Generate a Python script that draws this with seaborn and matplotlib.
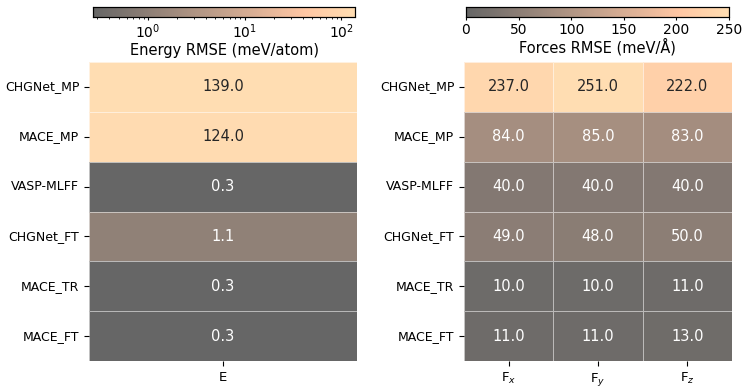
"""
Energy / force RMSE heatmaps for the MLFF comparison.
"""

import numpy as np
import pandas as pd
import matplotlib
matplotlib.use("Agg")
import matplotlib.pyplot as plt
from matplotlib.colors import LogNorm, Normalize
import seaborn as sns


# ---------------------------------------------------------------------------
# Data
# ---------------------------------------------------------------------------

MODELS = ["CHGNet_MP", "MACE_MP", "VASP-MLFF", "CHGNet_FT", "MACE_TR", "MACE_FT"]
ENERGY_COLS = ["E"]
FORCE_COLS = ["F$_x$", "F$_y$", "F$_z$"]

energy_rmse = [139.0, 124.0, 0.27, 1.1, 0.27, 0.27]
force_x = [237.0, 84.0, 40.0, 49.0, 10.0, 11.0]
force_y = [251.0, 85.0, 40.0, 48.0, 10.0, 11.0]
force_z = [222.0, 83.0, 40.0, 50.0, 11.0, 13.0]

CMAP = "copper"
ALPHA = 0.6


def main() -> None:
    df_e = pd.DataFrame({ENERGY_COLS[0]: energy_rmse}, index=MODELS)
    df_f = pd.DataFrame(dict(zip(FORCE_COLS, [force_x, force_y, force_z])), index=MODELS)

    fig = plt.figure(figsize=(7.47, 3.9), dpi=100)
    W, H = 747, 390

    def box(x0, y0, x1, y1):
        return [x0 / W, 1 - y1 / H, (x1 - x0) / W, (y1 - y0) / H]

    ax_e = fig.add_axes(box(89, 62, 357, 361))
    ax_f = fig.add_axes(box(464, 62, 732, 361))
    cax_e = fig.add_axes(box(93, 7, 355, 17))
    cax_f = fig.add_axes(box(466, 7, 729, 17))

    common = dict(cmap=CMAP, alpha=ALPHA, annot=True, fmt=".1f",
                  linewidths=0.6, linecolor="white",
                  annot_kws={"fontsize": 10.5},
                  cbar_kws={"orientation": "horizontal"})

    # Energy panel (log scale)
    sns.heatmap(df_e, ax=ax_e, cbar_ax=cax_e,
                norm=LogNorm(vmin=min(energy_rmse), vmax=max(energy_rmse)),
                **common)
    # Forces panel (linear)
    sns.heatmap(df_f, ax=ax_f, cbar_ax=cax_f,
                norm=Normalize(vmin=0, vmax=250), **common)

    for ax in (ax_e, ax_f):
        ax.set_yticklabels(MODELS, rotation=0, fontsize=9)
        ax.tick_params(axis="x", labelsize=9.5)
        ax.set_xlabel("")
        ax.set_ylabel("")

    cax_e.set_xlabel("Energy RMSE (meV/atom)", fontsize=10.5, labelpad=1)
    cax_f.set_xlabel("Forces RMSE (meV/Å)", fontsize=10.5, labelpad=1)
    cax_f.set_xticks([0, 50, 100, 150, 200, 250])
    for cax in (cax_e, cax_f):
        cax.tick_params(which="major", labelsize=10, length=2.5, pad=1.5)
        cax.tick_params(which="minor", length=1.5)
        cax.xaxis.set_ticks_position("bottom")
        cax.xaxis.set_label_position("bottom")
        for s in cax.spines.values():
            s.set_visible(True)
            s.set_linewidth(0.8)

    fig.savefig("out.png", dpi=100)
    plt.close(fig)


if __name__ == "__main__":
    main()
